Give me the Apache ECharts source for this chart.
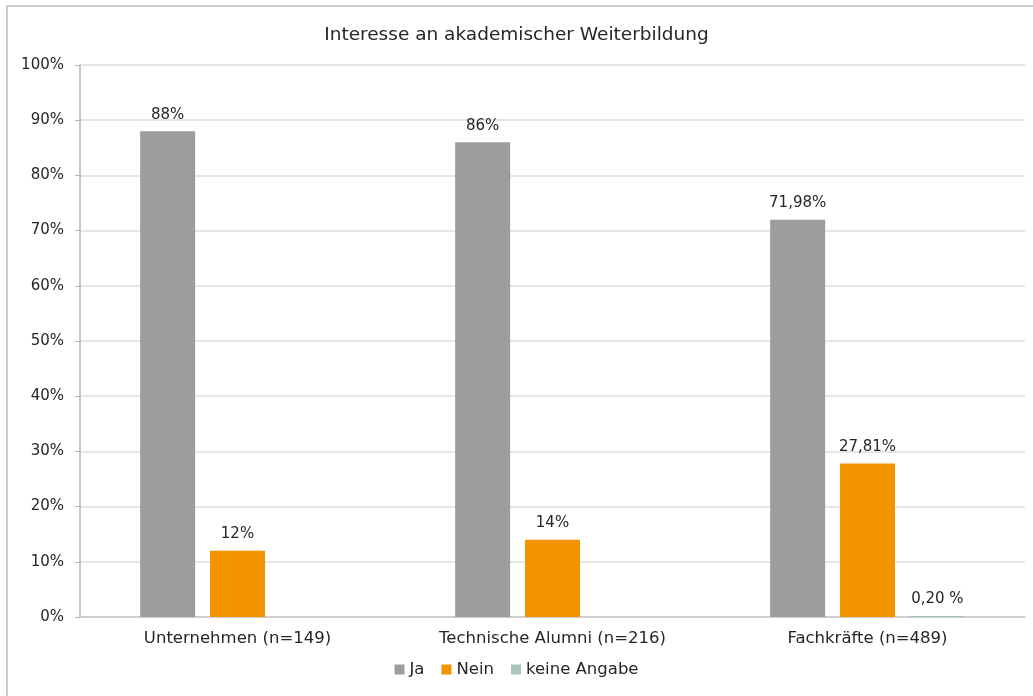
<!DOCTYPE html>
<html>
<head>
<meta charset="utf-8">
<script src="https://cdn.jsdelivr.net/npm/echarts@6/dist/echarts.min.js"></script>
<style>html,body{margin:0;padding:0;background:#fff}#c{width:1033px;height:696px}</style>
</head>
<body>
<div id="c"></div>
<script>
const title = 'Interesse an akademischer Weiterbildung';
const categories = ['Unternehmen (n=149)', 'Technische Alumni (n=216)', 'Fachkräfte (n=489)'];
const seriesNames = ['Ja', 'Nein', 'keine Angabe'];
const jaValues = [88, 86, 71.98];
const neinValues = [12, 14, 27.81];
const keineValues = [null, null, 0.2];
const jaLabels = ['88%', '86%', '71,98%'];
const neinLabels = ['12%', '14%', '27,81%'];
const keineLabels = ['', '', '0,20 %'];
const yTicks = [0, 10, 20, 30, 40, 50, 60, 70, 80, 90, 100];

const FONT = 'DejaVu Sans';
const colors = ['#9d9d9d', '#f29400', '#a9c4bb'];

function mk(name, values, labels, color) {
  return {
    name: name,
    type: 'bar',
    barWidth: 55,
    barGap: '27%',
    data: values,
    itemStyle: { color: color },
    label: {
      show: true,
      position: 'top',
      distance: 9,
      color: '#262626',
      fontFamily: FONT,
      fontSize: 15,
      formatter: p => labels[p.dataIndex]
    }
  };
}

const chart = echarts.init(document.getElementById('c'), null, { renderer: 'canvas' });
chart.setOption({
  animation: false,
  backgroundColor: '#fff',
  graphic: [{
    type: 'rect',
    shape: { x: 7, y: 6, width: 1060, height: 720 },
    style: { fill: 'none', stroke: '#bdbdbd', lineWidth: 1.5 },
    z: -1
  }],
  title: {
    text: title,
    left: 'center',
    top: 21,
    textStyle: { fontFamily: FONT, fontSize: 18.5, fontWeight: 'normal', color: '#262626' }
  },
  legend: {
    data: seriesNames,
    left: 'center',
    top: 656,
    itemWidth: 10,
    itemHeight: 10,
    itemGap: 17,
    icon: 'rect',
    textStyle: { fontFamily: FONT, fontSize: 16.5, color: '#262626', padding: [0, 0, 0, 0] }
  },
  grid: { left: 80, right: 8, top: 65, bottom: 79, containLabel: false },
  xAxis: {
    type: 'category',
    data: categories,
    axisLine: { lineStyle: { color: '#c8c8c8', width: 1.5 } },
    axisTick: { show: false },
    axisLabel: { fontFamily: FONT, fontSize: 16.5, color: '#262626', margin: 13 }
  },
  yAxis: {
    type: 'value',
    min: 0,
    max: 100,
    interval: 10,
    axisLine: { show: true, lineStyle: { color: '#b4b4b4', width: 1.5 } },
    axisTick: { show: true, length: 5, lineStyle: { color: '#b4b4b4' } },
    splitLine: { lineStyle: { color: '#dedede', width: 1.5 } },
    axisLabel: {
      fontFamily: FONT, fontSize: 15, color: '#262626', margin: 16,
      formatter: v => (yTicks.indexOf(v) >= 0 ? v + '%' : '')
    }
  },
  series: [
    mk(seriesNames[0], jaValues, jaLabels, colors[0]),
    mk(seriesNames[1], neinValues, neinLabels, colors[1]),
    mk(seriesNames[2], keineValues, keineLabels, colors[2])
  ]
});
</script>
</body>
</html>
